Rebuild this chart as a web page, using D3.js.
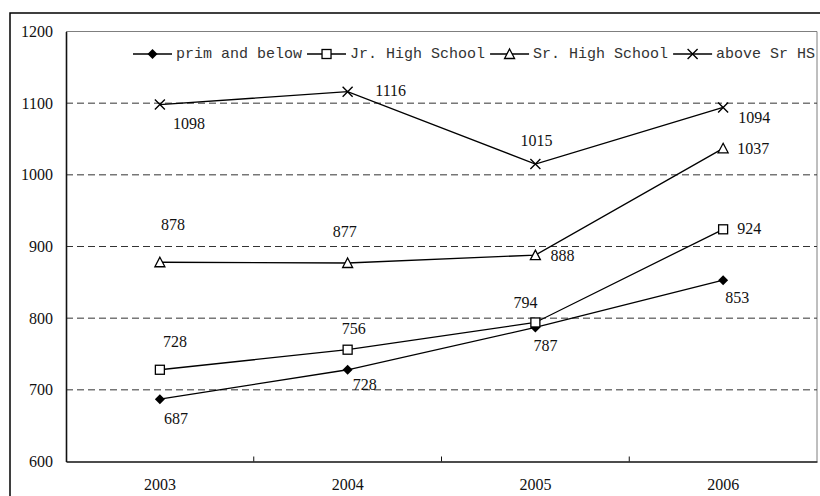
<!DOCTYPE html>
<html>
<head>
<meta charset="utf-8">
<script src="https://cdn.jsdelivr.net/npm/d3@7/dist/d3.min.js"></script>
<style>
  html, body { margin: 0; padding: 0; background: #fff; }
  svg { display: block; }
</style>
</head>
<body>
<svg id="chart" width="820" height="496"></svg>
<script>
// Monthly figures by education level, 2003–2006
const years = ["2003", "2004", "2005", "2006"];
const primBelow = [687, 728, 787, 853];
const jrHigh = [728, 756, 794, 924];
const srHigh = [878, 877, 888, 1037];
const aboveSr = [1098, 1116, 1015, 1094];
const seriesNames = ["prim and below", "Jr. High School", "Sr. High School", "above Sr HS"];
const yTicks = [600, 700, 800, 900, 1000, 1100, 1200];

// Value-label offsets (dx, dy of label centre from the point), per series and year
const labelOffsets = [
  [[16, 19], [17, 15], [10, 18], [14, 17]],
  [[15, -28], [6, -21], [-10, -20], [26, -1]],
  [[13, -38], [-3, -31], [27, 0], [30, 0]],
  [[29, 19], [43, -1], [1, -24], [31, 10]]
];

const series = [
  { name: seriesNames[0], values: primBelow, marker: "diamond" },
  { name: seriesNames[1], values: jrHigh, marker: "square" },
  { name: seriesNames[2], values: srHigh, marker: "triangle" },
  { name: seriesNames[3], values: aboveSr, marker: "cross" }
];

const svg = d3.select("#chart");
const plot = { left: 66, right: 817, top: 31.5, bottom: 461.5 };
const serif = "'Liberation Serif', 'Times New Roman', serif";

const x = d3.scaleBand().domain(years).range([plot.left, plot.right]);
const y = d3.scaleLinear().domain([600, 1200]).range([plot.bottom, plot.top]);
const cx = d => x(d) + x.bandwidth() / 2;

// Outer chart frame
svg.append("rect")
  .attr("x", 10).attr("y", 13).attr("width", 830).attr("height", 510)
  .attr("fill", "#fff").attr("stroke", "#000").attr("stroke-width", 1.5);

// Plot area frame (top and right)
svg.append("path")
  .attr("d", `M${plot.left},${plot.top}H${plot.right}V${plot.bottom}`)
  .attr("fill", "none").attr("stroke", "#7f7f7f").attr("stroke-width", 1);

// Dashed gridlines
svg.append("g").selectAll("line")
  .data(yTicks.filter(t => t > 600 && t < 1200))
  .join("line")
  .attr("x1", plot.left).attr("x2", plot.right)
  .attr("y1", d => y(d)).attr("y2", d => y(d))
  .attr("stroke", "#333").attr("stroke-width", 1)
  .attr("stroke-dasharray", "7,4");

// Y axis
const yAxis = svg.append("g")
  .attr("transform", `translate(${plot.left},0)`)
  .attr("font-family", serif)
  .call(d3.axisLeft(y).tickValues(yTicks).tickFormat(d3.format("d")).tickSize(0).tickPadding(13));
yAxis.select(".domain").attr("stroke", "#111").attr("stroke-width", 1.6);
yAxis.selectAll("text")
  .attr("font-family", serif)
  .attr("font-size", 16).attr("fill", "#111");

// X axis
const xAxis = svg.append("g")
  .attr("transform", `translate(0,${plot.bottom})`)
  .call(d3.axisBottom(x).tickSize(0).tickPadding(17));
xAxis.select(".domain").attr("stroke", "#111").attr("stroke-width", 1.6);
xAxis.selectAll("text")
  .attr("font-family", serif)
  .attr("font-size", 16).attr("fill", "#111");

// Category boundary ticks
svg.append("g").selectAll("line")
  .data(years.slice(1))
  .join("line")
  .attr("x1", d => x(d)).attr("x2", d => x(d))
  .attr("y1", plot.bottom).attr("y2", plot.bottom - 5)
  .attr("stroke", "#111").attr("stroke-width", 1);

// Marker drawing
function drawMarker(g, type, px, py) {
  if (type === "diamond") {
    g.append("path")
      .attr("d", `M${px},${py - 5}L${px + 5},${py}L${px},${py + 5}L${px - 5},${py}Z`)
      .attr("fill", "#000");
  } else if (type === "square") {
    g.append("rect")
      .attr("x", px - 4.5).attr("y", py - 4.5).attr("width", 9).attr("height", 9)
      .attr("fill", "#fff").attr("stroke", "#000").attr("stroke-width", 1.3);
  } else if (type === "triangle") {
    g.append("path")
      .attr("d", `M${px},${py - 5}L${px + 5},${py + 4.5}L${px - 5},${py + 4.5}Z`)
      .attr("fill", "#fff").attr("stroke", "#000").attr("stroke-width", 1.3);
  } else {
    g.append("path")
      .attr("d", `M${px - 5},${py - 5}L${px + 5},${py + 5}M${px + 5},${py - 5}L${px - 5},${py + 5}`)
      .attr("fill", "none").attr("stroke", "#000").attr("stroke-width", 1.4);
  }
}

const line = d3.line().x(d => cx(d.year)).y(d => y(d.value));

series.forEach((s, si) => {
  const pts = years.map((yr, i) => ({ year: yr, value: s.values[i] }));
  const g = svg.append("g");
  g.append("path").datum(pts)
    .attr("d", line)
    .attr("fill", "none").attr("stroke", "#000").attr("stroke-width", 1.3);
  pts.forEach(p => drawMarker(g, s.marker, cx(p.year), y(p.value)));
  g.selectAll("text.val").data(pts).join("text")
    .attr("class", "val")
    .attr("x", (d, i) => cx(d.year) + labelOffsets[si][i][0])
    .attr("y", (d, i) => y(d.value) + labelOffsets[si][i][1])
    .attr("text-anchor", "middle")
    .attr("dominant-baseline", "central")
    .attr("font-family", serif)
    .attr("font-size", 16).attr("fill", "#111")
    .text(d => d.value);
});

// Legend
const legend = svg.append("g").attr("transform", "translate(133,54)");
let lx = 0;
series.forEach(s => {
  const item = legend.append("g").attr("transform", `translate(${lx},0)`);
  item.append("line").attr("x1", 0).attr("x2", 39).attr("y1", 0).attr("y2", 0)
    .attr("stroke", "#000").attr("stroke-width", 1.3);
  drawMarker(item, s.marker, 19.5, 0);
  const t = item.append("text")
    .attr("x", 43).attr("y", 0)
    .attr("dominant-baseline", "central")
    .attr("font-family", "'Liberation Mono', 'DejaVu Sans Mono', monospace")
    .attr("font-size", 15).attr("fill", "#333")
    .text(s.name);
  lx += 43 + t.node().getComputedTextLength() + 5;
});
</script>
</body>
</html>
